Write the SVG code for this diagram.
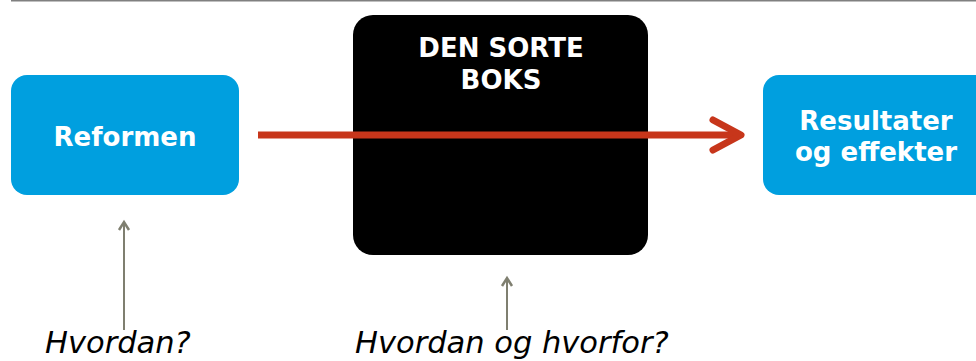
<svg xmlns="http://www.w3.org/2000/svg" width="976" height="361" viewBox="0 0 976 361">
<style>
.blue{fill:#009FDF}
.bold{font-family:"DejaVu Sans","Verdana",sans-serif;font-weight:bold;font-size:26px;fill:#FFFFFF;text-anchor:middle}
.q{font-family:"DejaVu Sans","Verdana",sans-serif;font-style:italic;font-size:30.5px;fill:#000000}
.garrow{stroke:#7F7F70;stroke-width:2;fill:none}
.ghead{stroke:#7F7F70;stroke-width:2.5;fill:none;stroke-linejoin:miter}
</style>
<line x1="11" y1="0.5" x2="976" y2="0.5" stroke="#808080" stroke-width="2"/>
<g id="reformen">
<rect class="blue" x="11" y="75" width="228" height="120" rx="16"/>
<text class="bold" x="125" y="146">Reformen</text>
</g>
<g id="sorte-boks">
<rect x="353" y="15" width="295" height="240" rx="20" fill="#000000"/>
<text class="bold" x="501" y="57">DEN SORTE</text>
<text class="bold" x="501" y="89">BOKS</text>
</g>
<g id="resultater">
<rect class="blue" x="763" y="75" width="240" height="120" rx="16"/>
<text class="bold" x="876" y="130">Resultater</text>
<text class="bold" x="876" y="161">og effekter</text>
</g>
<g id="connectors">
<line x1="258" y1="135" x2="738" y2="135" stroke="#C7361B" stroke-width="7"/>
<polyline points="713,120 741,135 713,150" fill="none" stroke="#C7361B" stroke-width="7" stroke-linecap="round" stroke-linejoin="round"/>
<line class="garrow" x1="124" y1="330" x2="124" y2="222"/>
<path d="M119,230 L124,222 L129,230" class="ghead"/>
<line class="garrow" x1="507" y1="330" x2="507" y2="278"/>
<path d="M502,286 L507,278 L512,286" class="ghead"/>
</g>
<g id="labels">
<text class="q" x="45" y="353">Hvordan?</text>
<text class="q" x="355" y="353">Hvordan og hvorfor?</text>
</g>
</svg>
